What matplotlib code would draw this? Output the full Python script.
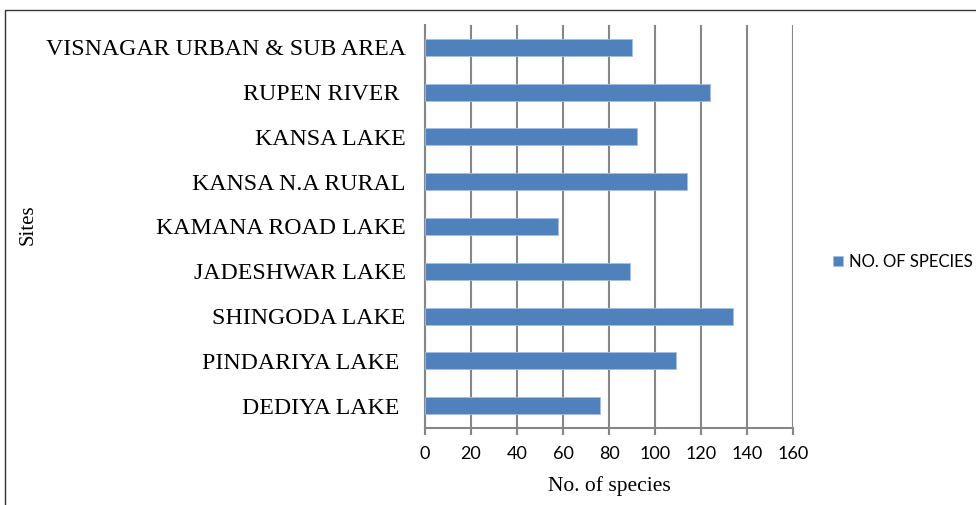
import matplotlib
matplotlib.use('Agg')
import matplotlib.pyplot as plt
from matplotlib.patches import Rectangle

# Sites listed top to bottom as in the chart
sites = [
    'VISNAGAR URBAN & SUB AREA',
    'RUPEN RIVER ',
    'KANSA LAKE',
    'KANSA N.A RURAL',
    'KAMANA ROAD LAKE',
    'JADESHWAR LAKE',
    'SHINGODA LAKE',
    'PINDARIYA LAKE ',
    'DEDIYA LAKE ',
]
species = [90, 124, 92, 114, 58, 89, 134, 109, 76]
x_ticks = [0, 20, 40, 60, 80, 100, 120, 140, 160]

SERIF = ['Liberation Serif', 'DejaVu Serif']
SANS = ['Lato', 'DejaVu Sans']

fig = plt.figure(figsize=(9.76, 5.05), dpi=100)
ax = fig.add_axes([0.4355, 0.1525, 0.377, 0.798])

# outer chart border
fig.patches.append(Rectangle((5 / 976, -0.1), 1.1, 1 - 10 / 505 + 0.1,
                             transform=fig.transFigure, fill=False,
                             edgecolor='#333333', linewidth=1.0))

ypos = list(range(len(sites)))
ax.barh(ypos, species, height=0.38, color='#4F81BD', edgecolor='#A7BFDE',
        linewidth=0.6, label='NO. OF SPECIES', zorder=3)

ax.set_ylim(len(sites) - 0.5, -0.5)
ax.set_xlim(0, 160)
ax.set_xticks(x_ticks)
ax.set_xticklabels([str(t) for t in x_ticks], family=SANS, fontsize=13)
ax.set_yticks(ypos)
ax.set_yticklabels(sites, family=SERIF, fontsize=17.2)

ax.grid(axis='x', color='#868686', linewidth=1.5, zorder=0)
for s in ['top', 'right']:
    ax.spines[s].set_visible(False)
ax.spines['left'].set_color('#868686')
ax.spines['left'].set_linewidth(1.5)
ax.spines['bottom'].set_color('#868686')
ax.spines['bottom'].set_linewidth(1.5)
ax.tick_params(axis='y', length=0, pad=14)
ax.tick_params(axis='x', length=5, width=1.5, color='#868686', pad=8,
               direction='out')

ax.set_xlabel('No. of species', family=SERIF, fontsize=15.5, labelpad=10)
fig.text(0.029, 0.555, 'Sites', rotation=90, family=SERIF, fontsize=15,
         ha='center', va='center')

ax.legend(loc='center left', bbox_to_anchor=(1.108, 0.412), frameon=False,
          prop={'family': SANS, 'size': 12}, handlelength=0.6,
          handleheight=0.6, handletextpad=0.4, borderpad=0,
          borderaxespad=0)

fig.savefig('out.png', dpi=100)
